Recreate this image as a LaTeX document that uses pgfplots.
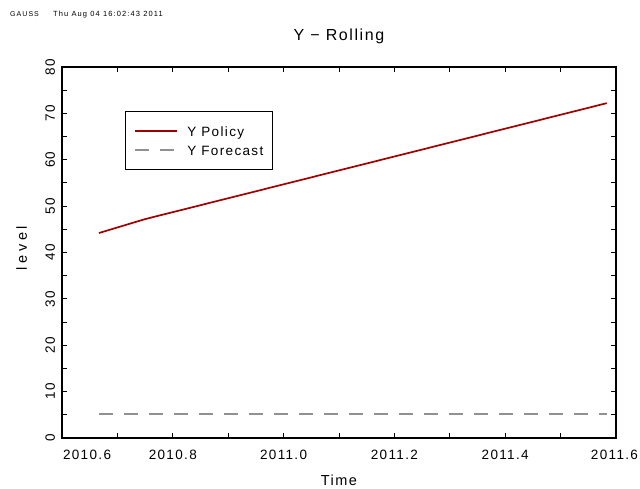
\documentclass[border=0pt]{standalone}
\usepackage{fontspec}
\setmainfont{Liberation Sans}[LetterSpace=10]
\newfontfamily\headfont{Liberation Sans}[LetterSpace=15]
\newfontfamily\widefont{Liberation Sans}[LetterSpace=25]
\usepackage{pgfplots}
\pgfplotsset{compat=1.18}
\definecolor{policyred}{RGB}{160,0,0}
\definecolor{forecastgray}{RGB}{145,145,145}

\begin{document}
\begin{tikzpicture}
\useasboundingbox (0,0) rectangle (640bp,489bp);
% run header
\node[anchor=base west, inner sep=0pt] at (10bp,472bp)
  {\headfont\fontsize{7bp}{8bp}\selectfont GAUSS};
\node[anchor=base west, inner sep=0pt] at (53bp,472bp)
  {\headfont\fontsize{7.5bp}{9bp}\selectfont Thu Aug 04 16:02:43 2011};
\begin{axis}[
  at={(62bp,51bp)}, anchor=south west,
  scale only axis, width=554bp, height=371bp,
  xmin=2010.6, xmax=2011.6, ymin=0, ymax=80,
  axis line style={line width=1.8bp},
  tick align=inside,
  major tick length=5bp, minor tick length=5bp,
  every tick/.style={black, line width=0.9bp},
  xtick={2010.6,2010.8,2011.0,2011.2,2011.4,2011.6},
  xticklabels={\hbox to 0pt{\hskip1bp 2010.6\hss},2010.8,2011.0,2011.2,2011.4,\hbox to 0pt{\hss 2011.6\hskip-22bp}},
  minor x tick num=1,
  ytick={0,10,20,30,40,50,60,70,80},
  yticklabels={0,10,20,30,40,50,60,70,80},
  minor y tick num=1,
  xticklabel style={anchor=north, inner sep=0pt, yshift=-12bp, font=\fontsize{13.5bp}{15bp}\selectfont},
  yticklabel style={xshift=-7bp, rotate=90, anchor=base, inner sep=0pt, font=\fontsize{13.5bp}{15bp}\selectfont},
  title={Y − Rolling},
  every axis title/.style={at={(axis description cs:0.5,1.0709)}, anchor=base, inner sep=0pt, font=\fontsize{16bp}{18bp}\selectfont},
  xlabel={Time},
  every axis x label/.style={at={(axis description cs:0.5,-0.1267)}, anchor=base, inner sep=0pt, font=\fontsize{14.5bp}{16bp}\selectfont},
  ylabel={\widefont level},
  every axis y label/.style={at={(axis description cs:-0.0632,0.512)}, rotate=90, anchor=base, inner sep=0pt, font=\fontsize{14.5bp}{16bp}\selectfont},
  legend style={at={(axis description cs:0.1137,0.881)}, anchor=north west,
    draw=black, line width=0.8bp, fill=white,
    inner xsep=9bp, inner ysep=9.7bp, column sep=9bp,
    nodes={inner sep=0pt, text height=15bp, text depth=4.3bp},
    font=\fontsize{13.5bp}{16bp}\selectfont},
  legend cell align=left,
  legend image code/.code={\draw[#1] (0bp,0bp) -- (42bp,0bp);},
]
% policy path, monthly
\addplot[policyred, line width=1.7bp] coordinates {
  (2010.6667,44.2) (2010.7500,47.2) (2010.8333,49.7) (2010.9167,52.2)
  (2011.0000,54.7) (2011.0833,57.2) (2011.1667,59.7) (2011.2500,62.2)
  (2011.3333,64.7) (2011.4167,67.2) (2011.5000,69.7) (2011.5833,72.2)
};
\addlegendentry{Y Policy}
% forecast path
\addplot[forecastgray, line width=1.9bp, dash pattern=on 14bp off 11bp] coordinates {
  (2010.6667,5.2) (2010.7500,5.2) (2010.8333,5.2) (2010.9167,5.2)
  (2011.0000,5.2) (2011.0833,5.2) (2011.1667,5.2) (2011.2500,5.2)
  (2011.3333,5.2) (2011.4167,5.2) (2011.5000,5.2) (2011.5833,5.2)
};
\addlegendentry{Y Forecast}
\end{axis}
\end{tikzpicture}
\end{document}
